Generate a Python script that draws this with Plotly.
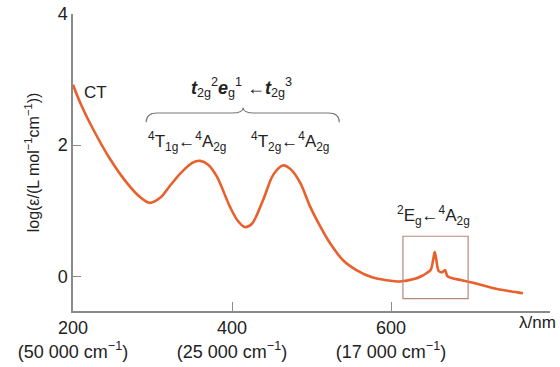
import plotly.graph_objects as go

# data
wavelength_nm = [200, 210, 225, 246, 268, 285, 296, 310, 322, 336, 350, 360, 370, 381, 397, 407, 416,
                 425, 439, 452, 464, 474, 486, 498, 511, 523, 540, 557, 577, 595, 611, 630, 638, 645,
                 650, 653, 655, 657, 660, 664, 668, 671, 680, 689, 703, 728, 750, 766]
log_eps = [2.92, 2.62, 2.25, 1.80, 1.42, 1.20, 1.12, 1.20, 1.38, 1.58, 1.73, 1.76, 1.70, 1.52, 1.07, 0.85, 0.75,
           0.80, 1.16, 1.55, 1.69, 1.63, 1.42, 1.07, 0.76, 0.51, 0.24, 0.09, -0.02, -0.06, -0.08, -0.04, 0.0, 0.05,
           0.10, 0.25, 0.37, 0.25, 0.08, 0.06, 0.09, 0.0, -0.04, -0.06, -0.10, -0.18, -0.23, -0.26]

tick_vals = [200, 400, 600, 800]
tick_text = ["200<br>(50 000 cm<sup>−1</sup>)", "400<br>(25 000 cm<sup>−1</sup>)",
             "600<br>(17 000 cm<sup>−1</sup>)", ""]
y_ticks = [0, 2, 4]

FONT = "Liberation Sans, Arial, sans-serif"
TXT = "#222222"
LINE = "#E8602C"

fig = go.Figure()
fig.add_trace(go.Scatter(x=wavelength_nm, y=log_eps, mode="lines",
                         line=dict(color=LINE, width=2.6, shape="spline", smoothing=0.9),
                         hoverinfo="skip", showlegend=False))

# inset box around 2Eg band
fig.add_shape(type="rect", xref="x", yref="y", x0=615, x1=697, y0=-0.34, y1=0.61,
              line=dict(color="#B5897B", width=1.2))

# curly brace
fig.add_shape(type="path", xref="x", yref="y",
              path="M 292,2.35 Q 292,2.49 306,2.49 L 400,2.49 Q 414,2.49 414,2.57 "
                   "Q 414,2.49 428,2.49 L 521,2.49 Q 535,2.49 535,2.35",
              line=dict(color="#777777", width=1.1))

ann = [
    dict(x=228, y=2.8, text="CT", size=17),
    dict(x=412, y=2.88, text="<b><i>t</i></b><sub>2g</sub><sup>2</sup><b><i>e</i></b><sub>g</sub><sup>1</sup> ←<b><i>t</i></b><sub>2g</sub><sup>3</sup>", size=18),
    dict(x=344, y=2.05, text="<sup>4</sup>T<sub>1g</sub>←<sup>4</sup>A<sub>2g</sub>", size=17),
    dict(x=473, y=2.05, text="<sup>4</sup>T<sub>2g</sub>←<sup>4</sup>A<sub>2g</sub>", size=17),
    dict(x=654, y=0.93, text="<sup>2</sup>E<sub>g</sub>←<sup>4</sup>A<sub>2g</sub>", size=17),
]
for a in ann:
    fig.add_annotation(x=a["x"], y=a["y"], xref="x", yref="y", text=a["text"], showarrow=False,
                       font=dict(family=FONT, size=a["size"], color=TXT), xanchor="center", yanchor="middle")

# axis title "λ/nm" at the right end of the x axis (paper coords of the 477x297 px plot area)
fig.add_annotation(x=(537 - 73) / 477, y=-(322 - 311) / 297, xref="paper", yref="paper",
                   text="λ/nm", showarrow=False, xanchor="center", yanchor="middle",
                   font=dict(family=FONT, size=17, color=TXT))

fig.update_layout(
    width=560, height=367,
    margin=dict(l=73, r=10, t=14, b=56),
    paper_bgcolor="white", plot_bgcolor="white",
    font=dict(family=FONT, size=17, color=TXT),
    xaxis=dict(range=[200, 800], tickvals=tick_vals, ticktext=tick_text, automargin=False,
               showgrid=False, zeroline=False, showline=True, linecolor="#8a8a8a", linewidth=1.5,
               ticks="inside", ticklen=9, tickcolor="#8a8a8a", tickwidth=1.2,
               tickfont=dict(family=FONT, size=18, color=TXT)),
    yaxis=dict(range=[-0.53, 4.0], tickvals=y_ticks, ticktext=[str(v) for v in y_ticks], automargin=False,
               showgrid=False, zeroline=False, showline=True, linecolor="#8a8a8a", linewidth=1.5,
               ticks="inside", ticklen=8, tickcolor="#8a8a8a", tickwidth=1.2,
               tickfont=dict(family=FONT, size=18, color=TXT),
               title=dict(text="log(ε/(L mol<sup>−1</sup>cm<sup>−1</sup>))", standoff=14,
                          font=dict(family=FONT, size=16, color=TXT))),
)

fig.write_html("out.html", config={"displayModeBar": False},
               post_script="document.body.style.margin='0';")
